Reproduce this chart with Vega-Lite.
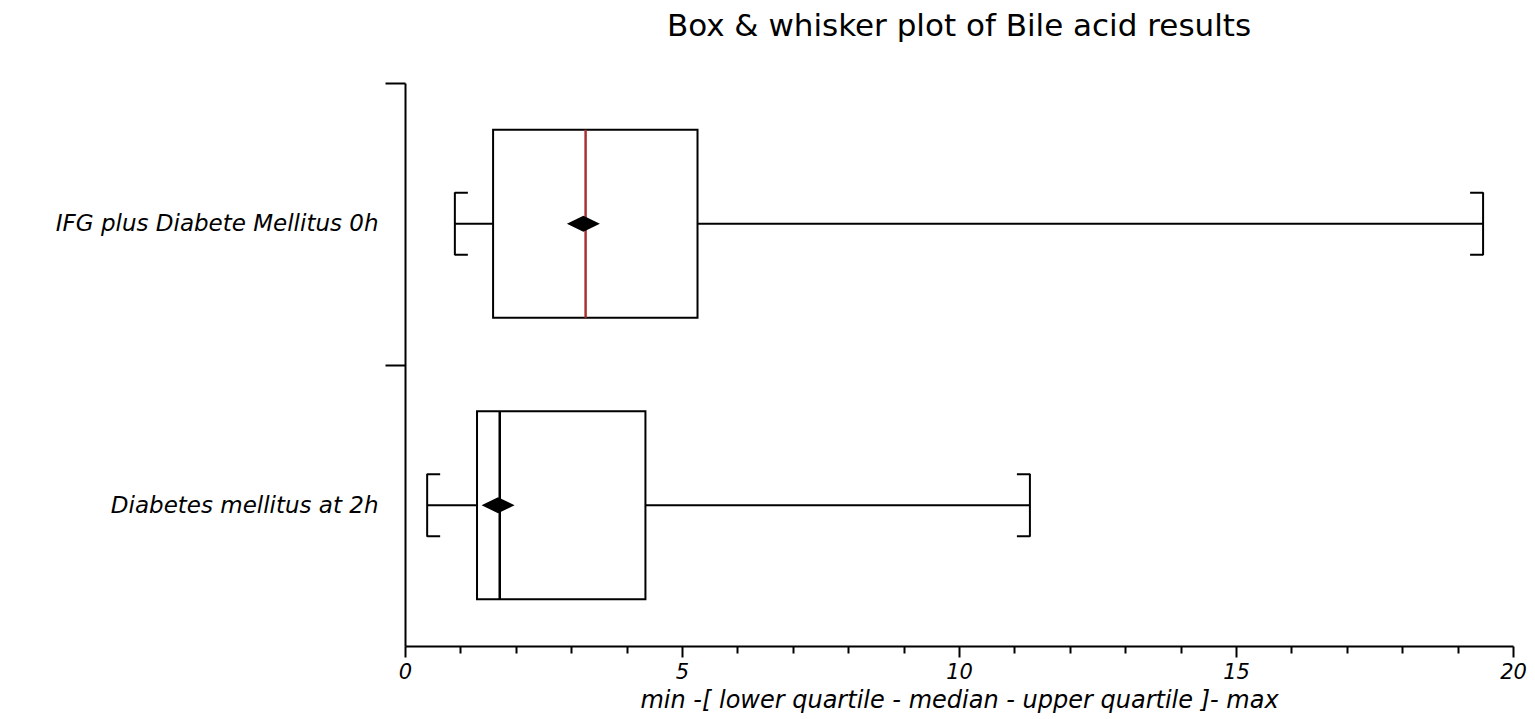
{
  "$schema": "https://vega.github.io/schema/vega-lite/v6.json",
  "autosize": "none",
  "width": 1108,
  "height": 563,
  "padding": {"left": 405, "top": 83, "right": 22, "bottom": 73},
  "background": "white",
  "title": {
    "text": "Box & whisker plot of Bile acid results",
    "font": "DejaVu Sans",
    "fontSize": 31,
    "fontWeight": "normal",
    "color": "black",
    "anchor": "middle",
    "baseline": "middle",
    "offset": 14
  },
  "config": {
    "view": {"stroke": null},
    "axis": {"grid": false}
  },
  "data": {
    "values": [
      {"group": "IFG plus Diabete Mellitus 0h", "min": 0.9, "q1": 1.59, "median": 3.26, "q3": 5.28, "max": 19.46, "mean": 3.22},
      {"group": "Diabetes mellitus at 2h", "min": 0.4, "q1": 1.3, "median": 1.71, "q3": 4.34, "max": 11.28, "mean": 1.68}
    ]
  },
  "encoding": {
    "y": {
      "field": "group",
      "type": "nominal",
      "sort": null,
      "scale": {"paddingInner": 0, "paddingOuter": 0},
      "axis": {
        "title": null,
        "tickBand": "extent",
        "tickSize": 20,
        "tickWidth": 2,
        "tickColor": "black",
        "tickOpacity": {"condition": {"test": "datum.index === 1", "value": 0}, "value": 1},
        "domainColor": "black",
        "domainWidth": 2,
        "labelPadding": 7,
        "labelFont": "DejaVu Sans",
        "labelFontStyle": "italic",
        "labelFontSize": 23,
        "labelColor": "black",
        "labelLimit": 400
      }
    }
  },
  "layer": [
    {
      "mark": {"type": "rule", "color": "black", "strokeWidth": 2},
      "encoding": {
        "x": {
          "field": "min",
          "type": "quantitative",
          "scale": {"domain": [0, 20], "nice": false, "zero": false},
          "axis": {
            "values": [0,1,2,3,4,5,6,7,8,9,10,11,12,13,14,15,16,17,18,19,20],
            "labelExpr": "datum.value % 5 === 0 ? datum.label : ''",
            "tickSize": {"condition": {"test": "datum.value % 5 === 0", "value": 11}, "value": 7},
            "tickWidth": 2,
            "tickColor": "black",
            "domainColor": "black",
            "domainWidth": 2,
            "labelPadding": 4,
            "labelFont": "DejaVu Sans",
            "labelFontStyle": "italic",
            "labelFontSize": 21,
            "labelColor": "black",
            "labelFlush": false,
            "labelOverlap": false,
            "title": "min -[ lower quartile - median - upper quartile ]- max",
            "titleFont": "DejaVu Sans",
            "titleFontStyle": "italic",
            "titleFontWeight": "normal",
            "titleFontSize": 24,
            "titleColor": "black",
            "titlePadding": 6
          }
        },
        "x2": {"field": "max"}
      }
    },
    {
      "mark": {"type": "bar", "fill": "white", "stroke": "black", "strokeWidth": 2, "size": 188},
      "encoding": {
        "x": {"field": "q1", "type": "quantitative"},
        "x2": {"field": "q3"}
      }
    },
    {
      "mark": {"type": "tick", "size": 188, "thickness": 2.5, "opacity": 1},
      "encoding": {
        "x": {"field": "median", "type": "quantitative"},
        "color": {
          "field": "group",
          "type": "nominal",
          "scale": {"domain": ["IFG plus Diabete Mellitus 0h", "Diabetes mellitus at 2h"], "range": ["#a83232", "black"]},
          "legend": null
        }
      }
    },
    {
      "mark": {"type": "tick", "size": 63, "thickness": 2, "color": "black", "opacity": 1},
      "encoding": {"x": {"field": "min", "type": "quantitative"}}
    },
    {
      "mark": {"type": "tick", "size": 63, "thickness": 2, "color": "black", "opacity": 1},
      "encoding": {"x": {"field": "max", "type": "quantitative"}}
    },
    {
      "mark": {"type": "rule", "color": "black", "strokeWidth": 2, "x2Offset": 13, "yOffset": -31},
      "encoding": {"x": {"field": "min", "type": "quantitative"}, "x2": {"field": "min"}}
    },
    {
      "mark": {"type": "rule", "color": "black", "strokeWidth": 2, "x2Offset": 13, "yOffset": 31},
      "encoding": {"x": {"field": "min", "type": "quantitative"}, "x2": {"field": "min"}}
    },
    {
      "mark": {"type": "rule", "color": "black", "strokeWidth": 2, "xOffset": -13, "yOffset": -31},
      "encoding": {"x": {"field": "max", "type": "quantitative"}, "x2": {"field": "max"}}
    },
    {
      "mark": {"type": "rule", "color": "black", "strokeWidth": 2, "xOffset": -13, "yOffset": 31},
      "encoding": {"x": {"field": "max", "type": "quantitative"}, "x2": {"field": "max"}}
    },
    {
      "mark": {"type": "point", "shape": "M-1,0L0,-0.48L1,0L0,0.48Z", "filled": true, "color": "black", "opacity": 1, "size": 1089},
      "encoding": {"x": {"field": "mean", "type": "quantitative"}}
    }
  ]
}
